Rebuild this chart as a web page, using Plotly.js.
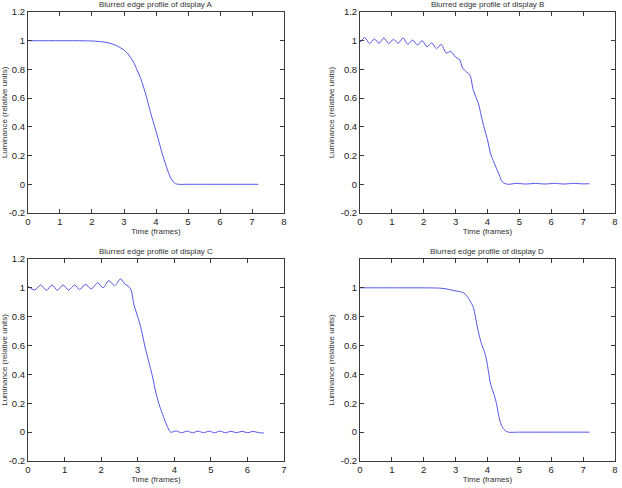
<!DOCTYPE html>
<html>
<head>
<meta charset="utf-8">
<script src="https://cdn.plot.ly/plotly-3.0.1.min.js"></script>
<style>
  html, body { margin: 0; padding: 0; background: #ffffff; }
  #chart { width: 622px; height: 488px; }
</style>
</head>
<body>
<div id="chart"></div>
<script>
// Edge profiles of four displays: luminance against time in frames.

// Display A
const timeA = [0, 1, 1.5, 2, 2.2, 2.4, 2.6, 2.8, 3.0, 3.1, 3.2, 3.3, 3.4, 3.5, 3.6, 3.7, 3.8, 3.9, 4.0, 4.1, 4.2, 4.3, 4.4, 4.5, 4.6, 4.7, 5, 6, 7.2];
const lumA  = [1, 1, 1, 0.998, 0.995, 0.99, 0.98, 0.962, 0.935, 0.915, 0.885, 0.85, 0.80, 0.75, 0.685, 0.61, 0.525, 0.445, 0.37, 0.29, 0.21, 0.14, 0.075, 0.03, 0.005, 0, 0, 0, 0];

// Display B
const timeB = [0, 0.15, 0.3, 0.45, 0.6, 0.75, 0.9, 1.05, 1.2, 1.35, 1.5, 1.65, 1.8, 1.95, 2.1, 2.25, 2.4, 2.55, 2.7, 2.85, 3.0, 3.12, 3.22, 3.35, 3.45, 3.55, 3.65, 3.72, 3.8, 3.9, 4.0, 4.1, 4.2, 4.3, 4.37, 4.45, 4.55, 4.65, 4.9, 5.2, 5.5, 5.8, 6.1, 6.4, 6.7, 7.0, 7.2];
const lumB  = [0.99, 1.022, 0.98, 1.012, 0.982, 1.02, 0.98, 1.01, 0.982, 1.02, 0.975, 1.005, 0.97, 1.0, 0.958, 0.985, 0.945, 0.975, 0.915, 0.925, 0.885, 0.87, 0.81, 0.78, 0.76, 0.66, 0.6, 0.56, 0.48, 0.39, 0.31, 0.21, 0.155, 0.1, 0.065, 0.02, 0.005, 0.0, 0.006, 0.002, 0.006, 0.002, 0.006, 0.002, 0.006, 0.003, 0.004];

// Display C
const timeC = [0, 0.18, 0.35, 0.5, 0.66, 0.8, 0.96, 1.11, 1.28, 1.41, 1.57, 1.73, 1.91, 2.05, 2.21, 2.37, 2.53, 2.65, 2.75, 2.82, 2.9, 3.0, 3.1, 3.2, 3.3, 3.4, 3.5, 3.6, 3.7, 3.8, 3.9, 4.05, 4.2, 4.35, 4.5, 4.65, 4.8, 4.95, 5.1, 5.25, 5.4, 5.55, 5.7, 5.85, 6.0, 6.15, 6.3, 6.45];
const lumC  = [1.01, 0.985, 1.02, 0.983, 1.02, 0.983, 1.02, 0.985, 1.02, 0.987, 1.025, 0.993, 1.035, 1.0, 1.05, 1.015, 1.062, 1.025, 1.01, 0.985, 0.88, 0.8, 0.71, 0.59, 0.49, 0.39, 0.27, 0.18, 0.11, 0.045, 0.0, 0.008, -0.004, 0.007, -0.004, 0.007, -0.004, 0.007, -0.004, 0.007, -0.004, 0.006, -0.004, 0.006, -0.004, 0.005, -0.003, -0.006];

// Display D
const timeD = [0, 1, 2, 2.5, 2.7, 2.9, 3.1, 3.25, 3.35, 3.45, 3.55, 3.62, 3.7, 3.8, 3.9, 3.97, 4.03, 4.1, 4.2, 4.28, 4.34, 4.4, 4.48, 4.56, 4.65, 5, 6, 7.2];
const lumD  = [1, 1, 1, 0.998, 0.993, 0.983, 0.975, 0.965, 0.945, 0.91, 0.87, 0.80, 0.71, 0.62, 0.56, 0.50, 0.42, 0.33, 0.265, 0.2, 0.13, 0.07, 0.03, 0.01, 0, 0, 0, 0];

// Tick values and labels
const xTicks8 = [0, 1, 2, 3, 4, 5, 6, 7, 8];
const xTicks7 = [0, 1, 2, 3, 4, 5, 6, 7];
const yTicks = [-0.2, 0, 0.2, 0.4, 0.6, 0.8, 1, 1.2];
const yTickText = ['-0.2', '0', '0.2', '0.4', '0.6', '0.8', '1', '1.2'];
const yTickTextD = ['-0.2', '0', '0.2', '0.4', '0.6', '0.8', '1', ''];

const panelTitles = ['Blurred edge profile of display A', 'Blurred edge profile of display B',
                     'Blurred edge profile of display C', 'Blurred edge profile of display D'];
const xLabel = 'Time (frames)';
const yLabel = 'Luminance (relative units)';

const lineColor = 'rgb(84,84,236)';
const axisColor = '#3a3a3a';
const FONT = 'Liberation Sans, Arial, Helvetica, sans-serif';

// Panel frames in paper coordinates
const colDomains = [[0.045, 0.4566], [0.5788, 0.9887]];
const rowDomains = [[0.5635, 0.9754], [0.0553, 0.4693]];

function trace(x, y, n) {
  return {
    x: x, y: y, type: 'scatter', mode: 'lines',
    line: { color: lineColor, width: 1, shape: 'spline', smoothing: 0.8 },
    xaxis: n === 1 ? 'x' : 'x' + n,
    yaxis: n === 1 ? 'y' : 'y' + n,
    hoverinfo: 'skip', showlegend: false
  };
}

function xAxis(domain, range, ticks, anchor) {
  return {
    domain: domain, range: range, anchor: anchor,
    tickmode: 'array', tickvals: ticks, ticktext: ticks.map(String),
    ticks: 'inside', ticklen: 4, tickwidth: 1, tickcolor: axisColor,
    showline: true, linecolor: axisColor, linewidth: 1, mirror: 'ticks',
    showgrid: false, zeroline: false, fixedrange: true,
    tickfont: { family: FONT, size: 9.5, color: '#222' },
    title: { text: xLabel, standoff: 0, font: { family: FONT, size: 8, color: '#333' } }
  };
}

function yAxis(domain, tickText, anchor) {
  return {
    domain: domain, range: [-0.2, 1.2], anchor: anchor,
    tickmode: 'array', tickvals: yTicks, ticktext: tickText,
    ticks: 'inside', ticklen: 4, tickwidth: 1, tickcolor: axisColor,
    showline: true, linecolor: axisColor, linewidth: 1, mirror: 'ticks',
    showgrid: false, zeroline: false, fixedrange: true,
    tickfont: { family: FONT, size: 9.5, color: '#222' },
    title: { text: yLabel, standoff: 4, font: { family: FONT, size: 8, color: '#333' } }
  };
}

const data = [
  trace(timeA, lumA, 1),
  trace(timeB, lumB, 2),
  trace(timeC, lumC, 3),
  trace(timeD, lumD, 4)
];

const panels = [
  { col: 0, row: 0 }, { col: 1, row: 0 }, { col: 0, row: 1 }, { col: 1, row: 1 }
];

const annotations = panels.map(function (p, i) {
  const d = colDomains[p.col];
  return {
    text: panelTitles[i], xref: 'paper', yref: 'paper',
    x: (d[0] + d[1]) / 2, y: rowDomains[p.row][1],
    xanchor: 'center', yanchor: 'bottom', yshift: 1, showarrow: false,
    font: { family: FONT, size: 8, color: '#333' }
  };
});

const layout = {
  width: 622, height: 488,
  margin: { l: 0, r: 0, t: 0, b: 0 },
  paper_bgcolor: '#ffffff', plot_bgcolor: '#ffffff',
  showlegend: false,
  xaxis:  xAxis(colDomains[0], [0, 8], xTicks8, 'y'),
  yaxis:  yAxis(rowDomains[0], yTickText, 'x'),
  xaxis2: xAxis(colDomains[1], [0, 8], xTicks8, 'y2'),
  yaxis2: yAxis(rowDomains[0], yTickText, 'x2'),
  xaxis3: xAxis(colDomains[0], [0, 7], xTicks7, 'y3'),
  yaxis3: yAxis(rowDomains[1], yTickText, 'x3'),
  xaxis4: xAxis(colDomains[1], [0, 8], xTicks8, 'y4'),
  yaxis4: yAxis(rowDomains[1], yTickTextD, 'x4'),
  annotations: annotations
};

Plotly.newPlot('chart', data, layout, { staticPlot: true, displayModeBar: false });
</script>
</body>
</html>
